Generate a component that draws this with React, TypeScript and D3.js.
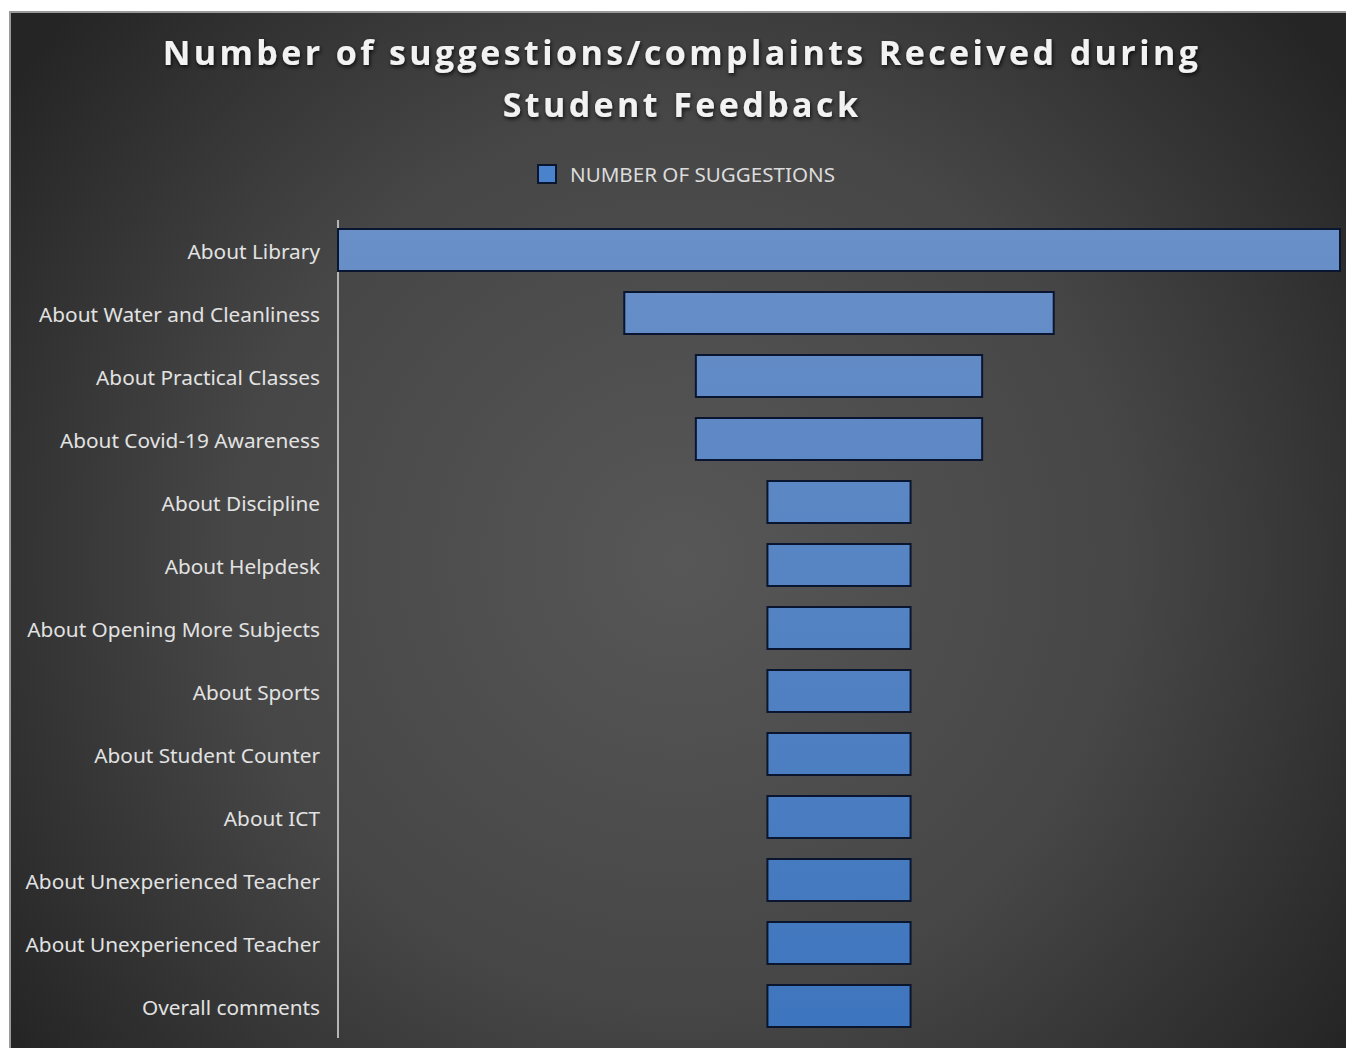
import React from "react";
import * as d3 from "d3";

const categories = [
  "About Library",
  "About Water and Cleanliness",
  "About Practical Classes",
  "About Covid-19 Awareness",
  "About Discipline",
  "About Helpdesk",
  "About Opening More Subjects",
  "About Sports",
  "About Student Counter",
  "About ICT",
  "About Unexperienced Teacher",
  "About Unexperienced Teacher",
  "Overall comments",
];
const values = [14, 6, 4, 4, 2, 2, 2, 2, 2, 2, 2, 2, 2];
const titleLines = ["Number of suggestions/complaints Received during", "Student Feedback"];
const seriesName = "NUMBER OF SUGGESTIONS";

const W = 1346;
const H = 1048;
const plotLeft = 338;
const plotRight = 1340;
const plotTop = 218.5;
const plotBottom = 1037.5;

export default function App() {
  const cx = (plotLeft + plotRight) / 2;
  const x = d3.scaleLinear().domain([0, d3.max(values) as number]).range([0, plotRight - plotLeft]);
  const y = d3
    .scaleBand<number>()
    .domain(categories.map((_, i) => i))
    .range([plotTop, plotBottom])
    .paddingInner(1 / 3)
    .paddingOuter(1 / 6);

  return (
    <svg
      width={W}
      height={H}
      style={{ position: "absolute", left: 0, top: 0, display: "block" }}
    >
      <defs>
        <radialGradient id="bg" cx="680" cy="560" r="820" gradientUnits="userSpaceOnUse">
          <stop offset="0" stopColor="#575757" />
          <stop offset="0.55" stopColor="#464646" />
          <stop offset="1" stopColor="#252525" />
        </radialGradient>
        <linearGradient id="barFill" x1="0" y1={plotTop} x2="0" y2={plotBottom} gradientUnits="userSpaceOnUse">
          <stop offset="0" stopColor="#6a90c8" />
          <stop offset="1" stopColor="#3d75be" />
        </linearGradient>
        <filter id="shadow" x="-5%" y="-20%" width="110%" height="150%">
          <feDropShadow dx="1" dy="2" stdDeviation="2" floodColor="#000" floodOpacity="0.8" />
        </filter>
      </defs>
      <rect x={0} y={0} width={W} height={H} fill="#ffffff" />
      <rect x={10} y={12} width={W} height={H} fill="url(#bg)" stroke="#9a9a9a" strokeWidth={2} />

      <g fontFamily="'Open Sans', 'Noto Sans', sans-serif" fontWeight={700} fill="#f2f2f2" filter="url(#shadow)">
        {titleLines.map((t, i) => (
          <text key={i} x={682} y={65 + i * 52} textAnchor="middle" fontSize={34} letterSpacing={3.4}>
            {t}
          </text>
        ))}
      </g>

      <g>
        <rect x={538} y={165} width={18} height={18} fill="#4a82cc" stroke="#0a1530" strokeWidth={2} />
        <text x={570} y={182} fontFamily="'Noto Sans', sans-serif" fontSize={19} fill="#dcdcdc" textLength={265} lengthAdjust="spacingAndGlyphs">
          {seriesName}
        </text>
      </g>

      <line x1={plotLeft} x2={plotLeft} y1={220} y2={1038} stroke="#b5b5b5" strokeWidth={2} />

      {values.map((v, i) => {
        const w = x(v);
        return (
          <rect
            key={i}
            x={cx - w / 2}
            y={y(i)}
            width={w}
            height={y.bandwidth()}
            fill="url(#barFill)"
            stroke="#0a1530"
            strokeWidth={2}
          />
        );
      })}

      <g fontFamily="'Noto Sans', sans-serif" fontSize={20.8} fill="#e2e2e2">
        {categories.map((c, i) => (
          <text key={i} x={320} y={(y(i) as number) + y.bandwidth() / 2 + 2} dy="0.35em" textAnchor="end">
            {c}
          </text>
        ))}
      </g>
    </svg>
  );
}
